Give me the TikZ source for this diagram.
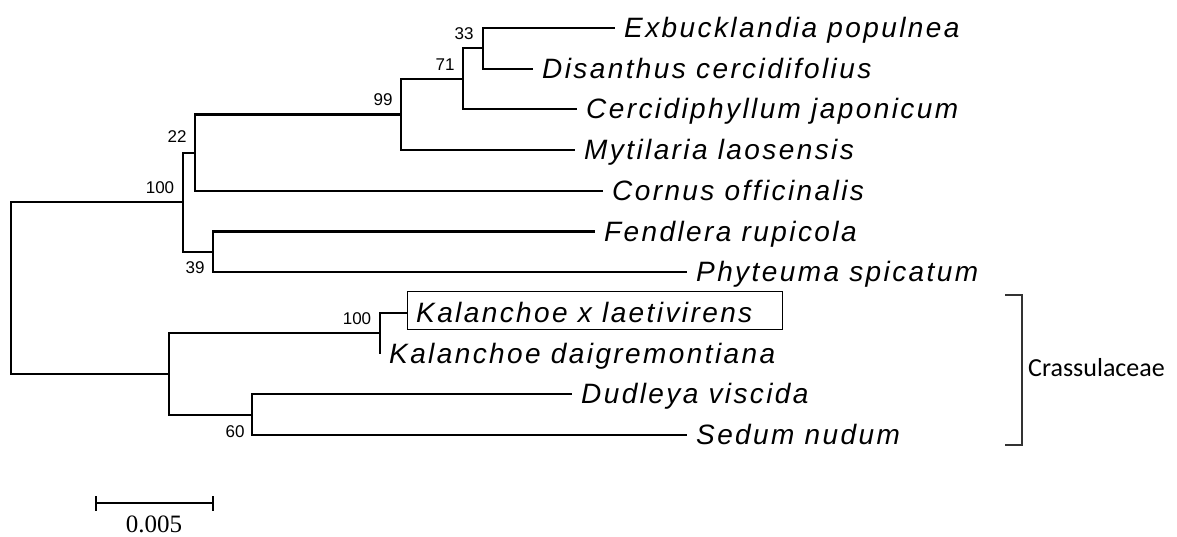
\documentclass[tikz,border=0pt]{standalone}
\usepackage{fontspec}
\setmainfont{Liberation Sans}
\newfontfamily\taxonfont{Liberation Sans}[LetterSpace=8.6]
\newfontfamily\cladefont{Carlito}
\newfontfamily\scalefont{Liberation Serif}
\begin{document}
\begin{tikzpicture}[x=1pt,y=-1pt,
  branch/.style={line width=2.1pt, line join=miter},
  taxon/.style={font=\taxonfont\fontsize{28}{32}\selectfont\itshape,
    anchor=base west, inner sep=0pt, xshift=9pt, yshift=-9.5pt},
  boot/.style={font=\fontsize{17}{20}\selectfont, inner sep=0pt},
  bracket/.style={line width=1.1pt, draw=black!80},
]
\useasboundingbox (0,0) rectangle (1177,536);

% leaf tips
\coordinate (tExb) at (615,28);
\coordinate (tDis) at (533,68.7);
\coordinate (tCer) at (577,109.4);
\coordinate (tMyt) at (575,150.1);
\coordinate (tCor) at (603,190.8);
\coordinate (tFen) at (595,231.5);
\coordinate (tPhy) at (687,272.2);
\coordinate (tKlx) at (407,312.9);
\coordinate (tKld) at (380,353.6);
\coordinate (tDud) at (572,394.3);
\coordinate (tSed) at (687,435);

% internal nodes
\coordinate (n33)  at (483,48.35);
\coordinate (n71)  at (463,78.9);
\coordinate (n99)  at (401,114.5);
\coordinate (n22)  at (195,152.6);
\coordinate (n39)  at (213,251.9);
\coordinate (n100) at (183,202.2);
\coordinate (nKal) at (380,333.3);
\coordinate (n60)  at (252,414.7);
\coordinate (nCra) at (169,374);
\coordinate (root) at (11,288);

% branches
\draw[branch] (n33) |- (tExb) (n33) |- (tDis);
\draw[branch] (n71) |- (n33) (n71) |- (tCer);
\draw[branch] (n99) |- (n71) (n99) |- (tMyt);
\draw[branch] (n22) |- (n99) (n22) |- (tCor);
\draw[branch] (n39) |- (tFen) (n39) |- (tPhy);
\draw[branch] (n100) |- (n22) (n100) |- (n39);
\draw[branch] (nKal) |- (tKlx) (nKal) |- (tKld);
\draw[branch] (n60) |- (tDud) (n60) |- (tSed);
\draw[branch] (nCra) |- (nKal) (nCra) |- (n60);
\draw[branch] (root) |- (n100) (root) |- (nCra);

% taxon names
\node[taxon] (lExb) at (tExb) {Exbucklandia populnea};
\node[taxon] (lDis) at (tDis) {Disanthus cercidifolius};
\node[taxon] (lCer) at (tCer) {Cercidiphyllum japonicum};
\node[taxon] (lMyt) at (tMyt) {Mytilaria laosensis};
\node[taxon] (lCor) at (tCor) {Cornus officinalis};
\node[taxon] (lFen) at (tFen) {Fendlera rupicola};
\node[taxon] (lPhy) at (tPhy) {Phyteuma spicatum};
\node[taxon] (lKlx) at (tKlx) {Kalanchoe x laetivirens};
\node[taxon] (lKld) at (tKld) {Kalanchoe daigremontiana};
\node[taxon] (lDud) at (tDud) {Dudleya viscida};
\node[taxon] (lSed) at (tSed) {Sedum nudum};

% frame around the new sequence
\node[draw, line width=1pt, minimum width=375pt, minimum height=38pt,
  inner sep=0pt, anchor=north west] (kbox) at (407,291) {};

% bootstrap values
\node[boot] (b33)  at (464,34)  {33};
\node[boot] (b71)  at (445,65)  {71};
\node[boot] (b99)  at (383,100) {99};
\node[boot] (b22)  at (177,137) {22};
\node[boot] (b100) at (160,188) {100};
\node[boot] (b39)  at (195,268) {39};
\node[boot] (bKal) at (357,319) {100};
\node[boot] (b60)  at (235,432) {60};

% family bracket
\draw[bracket] (1005,295) -- (1022,295) -- (1022,445) -- (1005,445);
\node[anchor=west, inner sep=0pt, font=\cladefont\fontsize{26}{30}\selectfont]
  (clade) at (1028,368) {Crassulaceae};

% scale bar
\coordinate (sL) at (96,503);
\coordinate (sR) at (213,503);
\draw[branch] (sL) -- (sR);
\draw[branch] ([yshift=7pt]sL) -- ([yshift=-8pt]sL);
\draw[branch] ([yshift=7pt]sR) -- ([yshift=-8pt]sR);
\node[anchor=base, inner sep=0pt, font=\scalefont\fontsize{25}{30}\selectfont]
  (scale) at (154,532) {0.005};
\end{tikzpicture}
\end{document}
